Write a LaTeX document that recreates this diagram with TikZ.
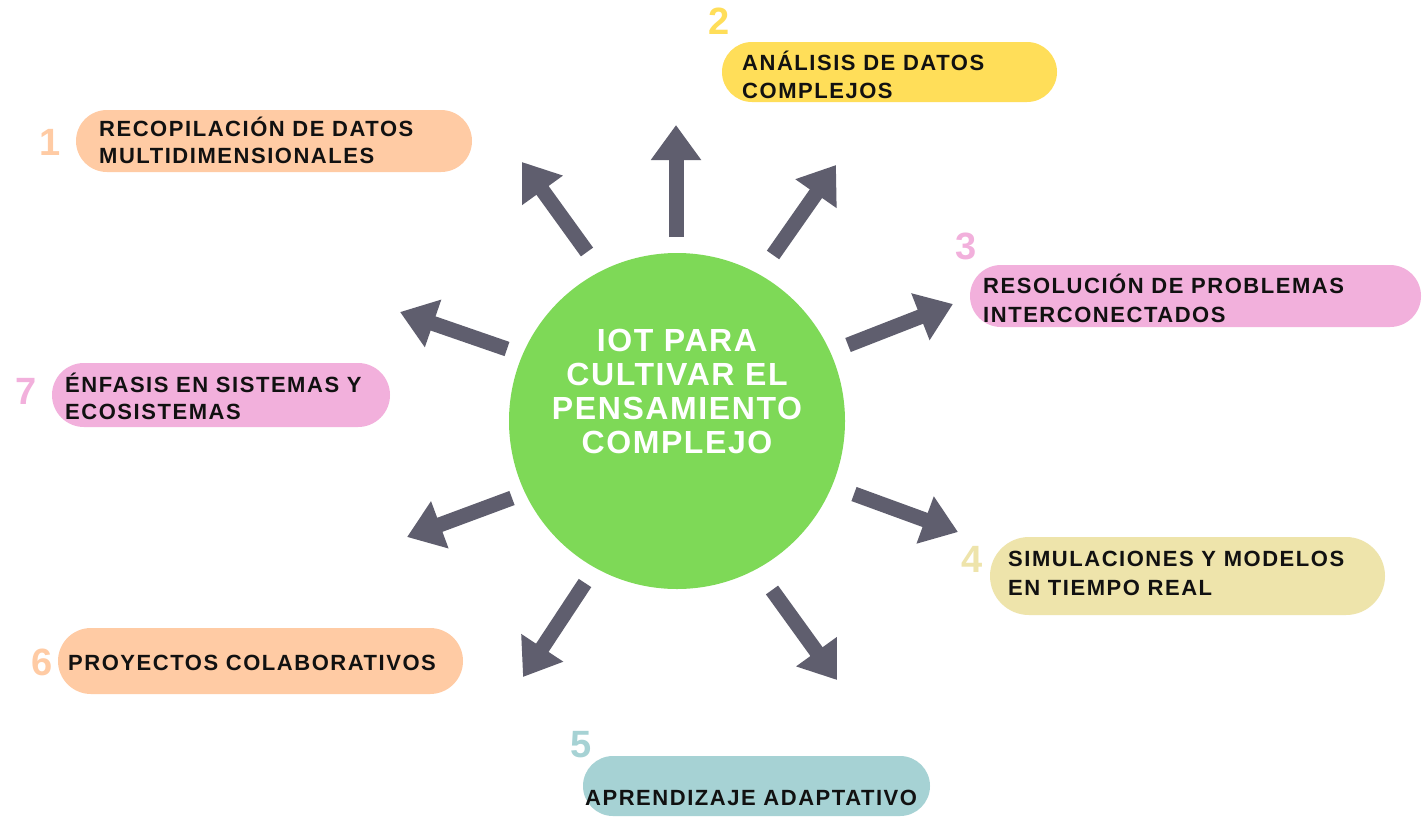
\documentclass[tikz,border=0pt]{standalone}
\usepackage{fontspec}
\setmainfont{Liberation Sans}
\newfontfamily\trk{Liberation Sans}[LetterSpace=7]
\newfontfamily\trkc{Liberation Sans}[LetterSpace=5]
\usetikzlibrary{arrows.meta,shapes.misc}
\definecolor{peach}{HTML}{FFCBA4}
\definecolor{sunny}{HTML}{FFDE59}
\definecolor{rosy}{HTML}{F2B0DC}
\definecolor{khaki}{HTML}{EEE4AB}
\definecolor{tealish}{HTML}{A6D2D4}
\definecolor{leaf}{HTML}{7ED957}
\definecolor{arrowgray}{HTML}{5F5E6E}
\definecolor{ink}{HTML}{111111}
\tikzset{
  pill/.style={rounded rectangle, draw=none, inner sep=0pt},
  lbl/.style={anchor=base west, inner sep=0pt, text=ink, font=\trk\bfseries\fontsize{22}{28}\selectfont},
  num/.style={inner sep=0pt, font=\bfseries\fontsize{38}{38}\selectfont},
  arr/.style={draw=arrowgray, line width=15pt, -{Triangle[width=48pt,length=35pt]}},
}
\begin{document}
\begin{tikzpicture}[x=1pt,y=-1pt]
\fill[white] (0,0) rectangle (1423,817);
\useasboundingbox (0,0) rectangle (1423,817);

% centre
\node[circle, fill=leaf, minimum size=336pt, inner sep=0pt] (c) at (677,421) {};
\node[align=center, text=white, inner sep=0pt, font=\trkc\bfseries\fontsize{32}{34}\selectfont] (ct) at (677,391)
  {IOT PARA\\CULTIVAR EL\\PENSAMIENTO\\COMPLEJO};

% boxes
\node[pill, fill=peach,   minimum width=396pt, minimum height=62pt] (b1) at (274,141) {};
\node[pill, fill=sunny,   minimum width=335pt, minimum height=60pt] (b2) at (889.5,72) {};
\node[pill, fill=rosy,    minimum width=451pt, minimum height=62pt] (b3) at (1195.5,296) {};
\node[pill, fill=khaki,   minimum width=395pt, minimum height=78pt] (b4) at (1187.5,576) {};
\node[pill, fill=tealish, minimum width=347pt, minimum height=60pt] (b5) at (756.5,786) {};
\node[pill, fill=peach,   minimum width=405pt, minimum height=66pt] (b6) at (260.5,661) {};
\node[pill, fill=rosy,    minimum width=338pt, minimum height=64pt] (b7) at (221,395) {};

% texts
\node[lbl] (t1a) at (99,136) {RECOPILACIÓN DE DATOS};
\node[lbl] (t1b) at (99,163) {MULTIDIMENSIONALES};
\node[lbl] (t2a) at (742,70) {ANÁLISIS DE DATOS};
\node[lbl] (t2b) at (742,98) {COMPLEJOS};
\node[lbl] (t3a) at (983,293) {RESOLUCIÓN DE PROBLEMAS};
\node[lbl] (t3b) at (983,322) {INTERCONECTADOS};
\node[lbl] (t4a) at (1008,566) {SIMULACIONES Y MODELOS};
\node[lbl] (t4b) at (1008,595) {EN TIEMPO REAL};
\node[lbl] (t5) at (585,805) {APRENDIZAJE ADAPTATIVO};
\node[lbl] (t6) at (68,670) {PROYECTOS COLABORATIVOS};
\node[lbl] (t7a) at (65,392) {ÉNFASIS EN SISTEMAS Y};
\node[lbl] (t7b) at (65,419) {ECOSISTEMAS};

% numbers
\node[num, text=peach]   (n1) at (50,142) {1};
\node[num, text=sunny]   (n2) at (719,21) {2};
\node[num, text=rosy]    (n3) at (966,246) {3};
\node[num, text=khaki]   (n4) at (972,559) {4};
\node[num, text=tealish] (n5) at (581,745) {5};
\node[num, text=peach]   (n6) at (42,662) {6};
\node[num, text=rosy]    (n7) at (26,391) {7};

% arrows
\coordinate (s1) at (587,252); \coordinate (e1) at (522,162);
\coordinate (s2) at (676,237); \coordinate (e2) at (676,125);
\coordinate (s3) at (773,255); \coordinate (e3) at (836,165);
\coordinate (s4) at (848,345); \coordinate (e4) at (953,304);
\coordinate (s5) at (854,494); \coordinate (e5) at (958,532);
\coordinate (s6) at (772,590); \coordinate (e6) at (837,680);
\coordinate (s7) at (585,583); \coordinate (e7) at (523,677);
\coordinate (s8) at (512,498); \coordinate (e8) at (407,537);
\coordinate (s9) at (507,349); \coordinate (e9) at (400,312);
\foreach \i in {1,...,9} { \draw[arr] (s\i) -- (e\i); }
\end{tikzpicture}
\end{document}
